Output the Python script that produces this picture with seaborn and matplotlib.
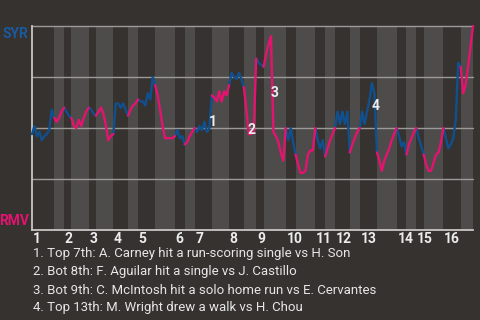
import matplotlib
matplotlib.use("Agg")
import matplotlib.pyplot as plt
import seaborn as sns
import pandas as pd
import numpy as np

# ---- data -------------------------------------------------------------
# win probability for SYR (percent) after each play, grouped by half-inning
half_labels = ["1T", "1B", "2T", "2B", "3T", "3B", "4T", "4B", "5T", "5B",
               "6T", "6B", "7T", "7B", "8T", "8B", "9T", "9B", "10T", "10B",
               "11T", "11B", "12T", "12B", "13T", "13B", "14T", "14B",
               "15T", "15B", "16T", "16B"]
start_wp = 47
wp_by_half = [
    [51, 46, 48, 44, 46, 47, 49, 59, 55],          # 1T
    [53, 55, 58, 60],                              # 1B
    [58, 56, 55],                                  # 2T
    [51, 50, 54, 51, 55, 58, 60],                  # 2B
    [59, 57, 56],                                  # 3T
    [58, 60, 57, 51, 44, 46, 47],                  # 3B
    [62, 62, 60, 62, 59, 56],                      # 4T
    [59, 61, 62, 64],                              # 4B
    [63, 63, 61, 67, 64, 75, 71],                  # 5T
    [66, 59, 51, 45, 45, 45, 45, 46],              # 5B
    [49, 45, 46, 42],                              # 6T
    [43, 46, 48, 50],                              # 6B
    [48, 51, 49, 53, 48, 50, 66],                  # 7T
    [65, 63, 68, 63, 68, 66, 71],                  # 7B
    [77, 75, 74, 77, 74, 70],                      # 8T
    [59, 47, 47, 48, 84],                          # 8B
    [82, 81, 80],                                  # 9T
    [86, 91, 95, 48, 46, 43, 38, 34, 50],          # 9B
    [44, 50, 43, 37],                              # 10T
    [32, 28, 28, 29, 37, 39, 39, 50],              # 10B
    [44, 40, 44, 36],                              # 11T
    [40, 44, 47, 50],                              # 11B
    [58, 52, 58, 52, 58, 38],                      # 12T
    [42, 45, 48, 50],                              # 12B
    [58, 52, 58, 64, 72, 67, 38],                  # 13T
    [34, 29, 34, 37, 40, 44, 47, 50],              # 13B
    [46, 41, 43, 37],                              # 14T
    [42, 45, 48, 50],                              # 14B
    [45, 41, 37],                                  # 15T
    [32, 29, 29, 33, 37, 38, 43, 50],              # 15B
    [45, 40, 42, 45, 54, 82, 80],                  # 16T
    [67, 71, 80, 90, 100],                         # 16B
]
inning_labels = [str(i) for i in range(1, 17)]
teams = ["SYR", "RMV"]
notes = [
    "1. Top 7th: A. Carney hit a run-scoring single vs H. Son",
    "2. Bot 8th: F. Aguilar hit a single vs J. Castillo",
    "3. Bot 9th: C. McIntosh hit a solo home run vs E. Cervantes",
    "4. Top 13th: M. Wright drew a walk vs H. Chou",
]

# ---- build table ------------------------------------------------------
rows = []
starts = []
pos = 0
prev = start_wp
for h, vals in zip(half_labels, wp_by_half):
    team = teams[0] if h.endswith("T") else teams[1]
    starts.append(pos)
    rows.append(dict(x=pos, wp=prev, half=h, team=team))
    for v in vals:
        pos += 1
        rows.append(dict(x=pos, wp=v, half=h, team=team))
        prev = v
end = pos
df = pd.DataFrame(rows)

# ---- style -------------------------------------------------------------
BG = "#353230"
BAND = "#4e4c4a"
BLUE = "#10508f"
PINK = "#e3136f"
TXT = "#ececec"

sns.set_theme(style="dark")
plt.rcParams["font.family"] = ["Roboto", "DejaVu Sans"]

fig = plt.figure(figsize=(4.8, 3.2), dpi=100, facecolor=BG)
ax = fig.add_axes([32 / 480, 1 - 230 / 320, 441 / 480, 204 / 320])
ax.set_facecolor(BG)

for i, h in enumerate(half_labels):
    if h.endswith("B"):
        s = starts[i]
        e = starts[i + 1] if i + 1 < len(starts) else end
        ax.axvspan(s, e, color=BAND, lw=0, zorder=0)

for yv in [25, 50, 75, 100]:
    ax.axhline(yv, color="#9c9a98", lw=1.0, zorder=1, clip_on=False)

sns.lineplot(data=df, x="x", y="wp", hue="team", units="half",
             estimator=None, sort=False, palette={"SYR": BLUE, "RMV": PINK},
             lw=1.7, legend=False, ax=ax, zorder=3)
for ln in ax.lines:
    ln.set_clip_on(False)

ax.set_xlim(0, end)
ax.set_ylim(0, 100)
ax.set_xticks([])
ax.set_yticks([])
ax.set_xlabel("")
ax.set_ylabel("")
for sp in ["top", "right"]:
    ax.spines[sp].set_visible(False)
for sp in ["left", "bottom"]:
    ax.spines[sp].set_visible(True)
    ax.spines[sp].set_color("#c9c7c4")
    ax.spines[sp].set_linewidth(1.3)

# inning labels
for i, lab in enumerate(inning_labels):
    s = starts[2 * i]
    ax.text(s + 0.3, -4.2, lab, ha="left", va="center", color=TXT,
            fontsize=10, fontweight="bold", clip_on=False)

# team labels
fig.text(28 / 480, 1 - 34 / 320, "SYR", ha="right", va="center",
         color="#1a5a9e", fontsize=10, fontweight="bold")
fig.text(29 / 480, 1 - 221 / 320, "RMV", ha="right", va="center",
         color=PINK, fontsize=10, fontweight="bold")

# annotation numbers placed beside the annotated plays
note_pos = [(73.2, 53), (88.9, 49), (98.6, 67), (139.4, 61)]
for k, (xp, yp) in enumerate(note_pos):
    ax.text(xp, yp, str(k + 1), ha="center", va="center",
            color=TXT, fontsize=10, fontweight="bold", zorder=4)

for k, t in enumerate(notes):
    fig.text(33 / 480, 1 - (254 + 18 * k) / 320, t, ha="left", va="center",
             color="#e6e6e6", fontsize=9.5)

fig.savefig("out.png", dpi=100, facecolor=BG)
